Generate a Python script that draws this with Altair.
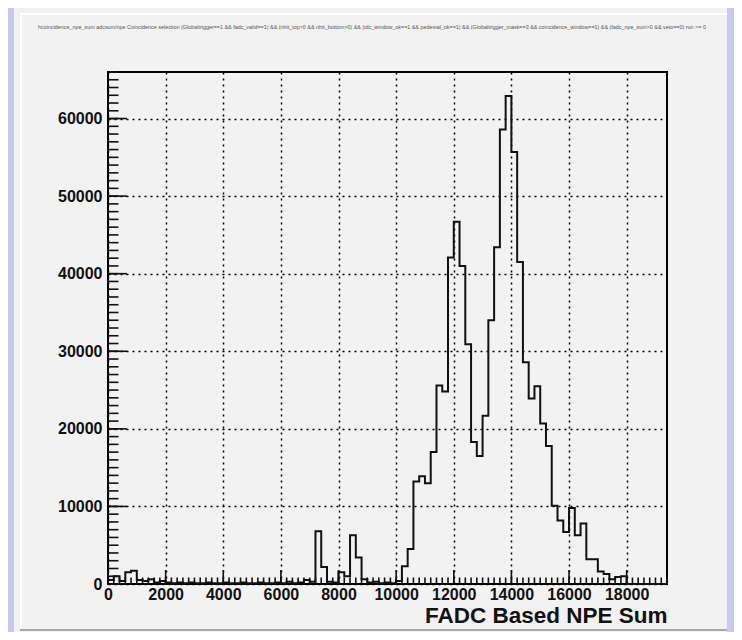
import altair as alt
import pandas as pd

# ---------------- data ----------------
BIN_WIDTH = 200
counts = [
    500, 1000, 400, 1500, 1700, 500, 400, 600, 200, 400,        # 0 - 1800
    200, 100, 200, 100, 200, 100, 100, 200, 100, 100,           # 2000 - 3800
    200, 100, 100, 200, 100, 100, 200, 100, 100, 200,           # 4000 - 5800
    100, 300, 100, 200, 500, 300, 6800, 2200, 300, 200,         # 6000 - 7800
    1500, 1000, 6300, 3400, 600, 200, 300, 100, 200, 100,       # 8000 - 9800
    400, 2300, 4500, 13200, 13900, 13000, 17000, 25600, 24800, 42100,   # 10000 - 11800
    46700, 41000, 30900, 18300, 16500, 21700, 34000, 43400, 58600, 62900,  # 12000 - 13800
    55700, 41500, 28600, 23900, 25500, 20700, 17800, 10100, 8200, 6700,    # 14000 - 15800
    9800, 6300, 7800, 3200, 3200, 1600, 1300, 600, 900, 1000,   # 16000 - 17800
]
bin_start = [i * BIN_WIDTH for i in range(len(counts))]

x_domain = [0, 19400]
y_domain = [0, 66000]
x_major = [0, 2000, 4000, 6000, 8000, 10000, 12000, 14000, 16000, 18000]
x_minor = list(range(0, 19401, 200))
y_major = [0, 10000, 20000, 30000, 40000, 50000, 60000]
y_minor = list(range(0, 66001, 1000))

x_title = "FADC Based NPE Sum"
top_text = ("hcoincidence_npe_sum  adcsum/npe  Coincidence selection  (Globaltrigger==1 && fadc_valid==1) "
            "&& (nhit_top>0 && nhit_bottom>0) && (tdc_window_ok==1 && pedestal_ok==1) && (Globaltrigger_mask==3 "
            "&& coincidence_window==1) && (fadc_npe_sum>0 && veto==0)  run >= 0")

# ---------------- layout ----------------
W, H = 559, 512
FONT = "Liberation Sans"

hist_df = pd.DataFrame({
    "x": bin_start + [bin_start[-1] + BIN_WIDTH, x_domain[1]],
    "n": counts + [0, 0],
})
xmin_df = pd.DataFrame({"x": x_minor})
xmaj_df = pd.DataFrame({"x": x_major})
ymin_df = pd.DataFrame({"n": y_minor})
ymaj_df = pd.DataFrame({"n": y_major})
one = pd.DataFrame({"a": [0]})

xs = alt.Scale(domain=x_domain, nice=False, zero=False)
ys = alt.Scale(domain=y_domain, nice=False)

x_axis = alt.Axis(
    values=x_major, format="d", grid=True, gridDash=[2, 4], gridColor="#000", gridWidth=1.5, gridOpacity=1,
    ticks=False, domain=False, labelFont=FONT, labelFontSize=16, labelFontWeight="bold",
    labelColor="#111", labelPadding=2, labelFlush=False, labelOverlap=False,
    title=x_title, titleFont=FONT, titleFontSize=22.5, titleFontWeight="bold", titleColor="#111",
    titleAnchor="end", titlePadding=2,
)
y_axis = alt.Axis(
    values=y_major, format="d", grid=True, gridDash=[2, 4], gridColor="#000", gridWidth=1.5, gridOpacity=1,
    ticks=False, domain=False, labelFont=FONT, labelFontSize=16, labelFontWeight="bold",
    labelColor="#111", labelPadding=6, labelFlush=False, labelOverlap=False, title=None,
)

X = alt.X("x:Q", scale=xs, axis=x_axis, title=x_title)
Y = alt.Y("n:Q", scale=ys, axis=y_axis, title=None)

hist = alt.Chart(hist_df).mark_line(
    interpolate="step-after", color="#111", strokeWidth=2
).encode(x=X, y=Y)

def xticks(df, length):
    return alt.Chart(df).mark_rule(color="#111", strokeWidth=1.6).encode(
        x=X, y=alt.value(H), y2=alt.value(H - length),
    )

def yticks(df, length):
    return alt.Chart(df).mark_rule(color="#111", strokeWidth=1.6).encode(
        y=Y, x=alt.value(0), x2=alt.value(length),
    )

def box(x1, x2, y1, y2, color):
    return alt.Chart(one).mark_rect(color=color, strokeWidth=0).encode(
        x=alt.value(x1), x2=alt.value(x2), y=alt.value(y1), y2=alt.value(y2)
    )

lav = "#c8c8f4"
decor = (
    box(-100, -94, -64, 560, lav)
    + box(619, 626, -64, 560, lav)
    + box(-88, 619, -59, -57, "#ffffff")
    + box(-88, -86, -59, 558, "#ffffff")
    + box(-88, 619, 557, 559, "#a8a8a8")
)

top_label = alt.Chart(one).mark_text(
    font=FONT, fontSize=5.4, color="#555", align="center", baseline="middle"
).encode(x=alt.value(264), y=alt.value(-45), text=alt.value(top_text))

chart = alt.layer(
    hist,
    xticks(xmin_df, 6.5), xticks(xmaj_df, 14),
    yticks(ymin_df, 10.5), yticks(ymaj_df, 19),
    decor, top_label,
).properties(
    width=W, height=H,
    padding={"left": 100, "top": 64, "right": 67, "bottom": 48},
    autosize=alt.AutoSizeParams(type="none"),
    background="#f2f2f2",
).configure_view(stroke="#000", strokeWidth=2)

chart.save("out.html", embed_options={"renderer": "svg", "actions": False})
